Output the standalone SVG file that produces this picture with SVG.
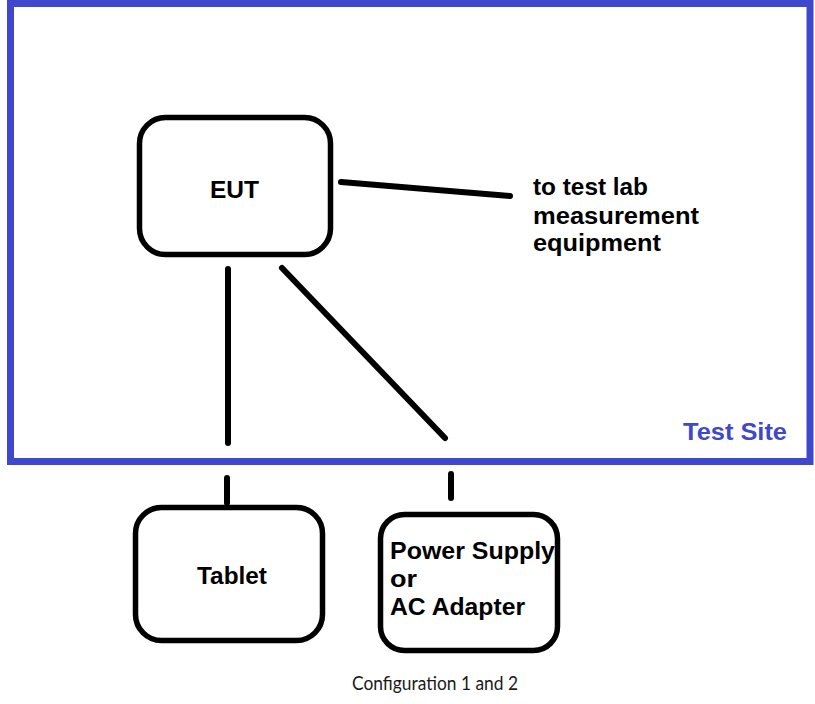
<svg xmlns="http://www.w3.org/2000/svg" width="815" height="704" viewBox="0 0 815 704">
  <style>
    .box { fill: #ffffff; stroke: #000000; stroke-width: 5.5; }
    .wire { fill: none; stroke: #000000; stroke-width: 6; stroke-linecap: round; }
    .lbl { font-family: "Liberation Sans", Arial, sans-serif; font-weight: bold; font-size: 23.5px; fill: #000000; }
    .site { font-family: "Liberation Sans", Arial, sans-serif; font-weight: bold; font-size: 23.5px; fill: #3F48CC; }
    .cap { font-family: Lato, "Open Sans", sans-serif; font-size: 19.5px; fill: #1a1a1a; }
  </style>
  <rect width="815" height="704" fill="#ffffff"/>

  <!-- test site enclosure -->
  <g id="test-site">
    <rect x="10.5" y="3.5" width="799.5" height="458" fill="none" stroke="#3F48CC" stroke-width="7"/>
    <text class="site" x="683" y="440" textLength="104" lengthAdjust="spacingAndGlyphs">Test Site</text>
  </g>

  <!-- cabling -->
  <g id="connectors">
    <line class="wire" x1="341" y1="182" x2="510" y2="196"/>
    <line class="wire" x1="228" y1="269" x2="228" y2="443"/>
    <line class="wire" x1="282" y1="268" x2="445" y2="438"/>
    <line class="wire" x1="227" y1="478" x2="227" y2="503"/>
    <line class="wire" x1="451" y1="474" x2="451" y2="498"/>
  </g>

  <g id="eut">
    <rect class="box" x="139.5" y="117.5" width="191" height="137" rx="26" ry="26"/>
    <text class="lbl" x="210" y="198" textLength="49" lengthAdjust="spacingAndGlyphs">EUT</text>
  </g>

  <g id="measurement-label">
    <text class="lbl" x="533" y="195" textLength="115" lengthAdjust="spacingAndGlyphs">to test lab</text>
    <text class="lbl" x="533" y="224" textLength="166" lengthAdjust="spacingAndGlyphs">measurement</text>
    <text class="lbl" x="533" y="251" textLength="128" lengthAdjust="spacingAndGlyphs">equipment</text>
  </g>

  <g id="tablet">
    <rect class="box" x="135.5" y="507.5" width="187" height="133" rx="26" ry="26"/>
    <text class="lbl" x="197" y="584" textLength="70" lengthAdjust="spacingAndGlyphs">Tablet</text>
  </g>

  <g id="power-supply">
    <rect class="box" x="380.5" y="514.5" width="177" height="136" rx="24" ry="24"/>
    <text class="lbl" x="390" y="559" textLength="165" lengthAdjust="spacingAndGlyphs">Power Supply</text>
    <text class="lbl" x="390" y="587" textLength="27" lengthAdjust="spacingAndGlyphs">or</text>
    <text class="lbl" x="390" y="615" textLength="135" lengthAdjust="spacingAndGlyphs">AC Adapter</text>
  </g>

  <text class="cap" x="352" y="690" textLength="166" lengthAdjust="spacingAndGlyphs">Configuration 1 and 2</text>
</svg>
